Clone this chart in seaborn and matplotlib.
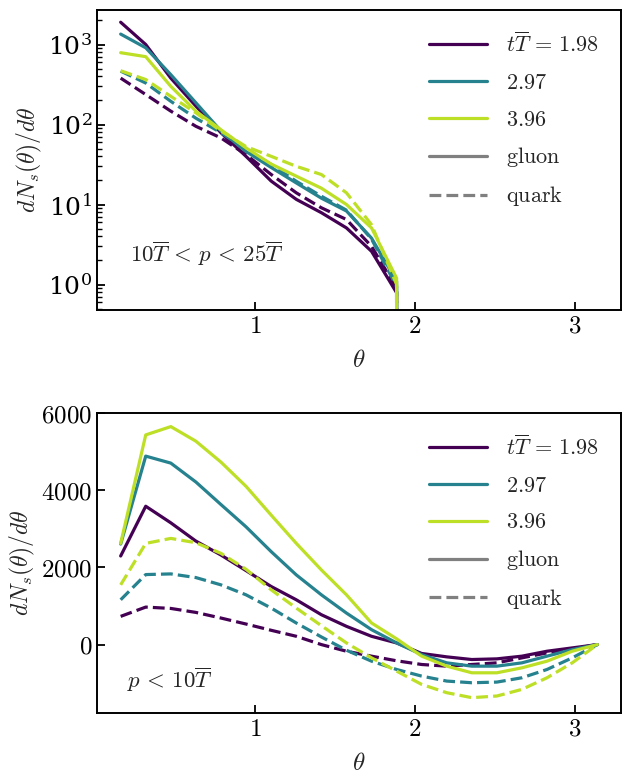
import numpy as np
import pandas as pd
import matplotlib
matplotlib.use('Agg')
import matplotlib.pyplot as plt
from matplotlib.lines import Line2D
from matplotlib.ticker import FuncFormatter
import seaborn as sns

# theta bins (k*pi/20)
theta = [0.157, 0.314, 0.471, 0.628, 0.785, 0.942, 1.100, 1.257, 1.414, 1.571,
         1.728, 1.885, 2.042, 2.199, 2.356, 2.513, 2.670, 2.827, 2.985, 3.142]
times = ['1.98', '2.97', '3.96']

# top panel: 10T < p < 25T (log scale), zero beyond theta ~ 1.9
hi_gluon = {
    '1.98': [1900, 1000, 380, 170, 79, 40, 19.6, 11.6, 7.9, 5.1, 2.6, 0.79, 0],
    '2.97': [1350, 910, 420, 187, 83, 46, 29, 18.6, 12, 8.3, 3.8, 1.1, 0],
    '3.96': [790, 705, 300, 147, 86, 51, 32, 22.6, 16, 10, 5.1, 1.2, 0],
}
hi_quark = {
    '1.98': [380, 237, 147, 95, 68, 42, 23.7, 14, 9.1, 6.5, 3.0, 0.9, 0],
    '2.97': [465, 330, 195, 120, 79, 49, 31.6, 19.5, 12.7, 8.5, 3.7, 0.95, 0],
    '3.96': [470, 365, 225, 140, 83, 53, 40, 30, 23.7, 14, 5.6, 1.0, 0],
}

# bottom panel: p < 10T (linear scale)
lo_gluon = {
    '1.98': [2296, 3586, 3156, 2683, 2322, 1918, 1505, 1161, 774, 473,
             215, 43, -230, -318, -387, -370, -300, -172, -86, 0],
    '2.97': [2606, 4885, 4704, 4214, 3630, 3053, 2408, 1806, 1290, 817,
             387, 43, -260, -473, -559, -559, -473, -300, -129, 0],
    '3.96': [2623, 5435, 5650, 5272, 4730, 4102, 3354, 2623, 1935, 1290,
             560, 150, -300, -559, -731, -731, -602, -430, -172, 0],
}
lo_quark = {
    '1.98': [731, 972, 937, 834, 688, 533, 370, 215, 0, -172,
             -300, -420, -516, -559, -516, -473, -344, -215, -112, 0],
    '2.97': [1161, 1815, 1832, 1737, 1548, 1290, 946, 559, 198, -146,
             -430, -645, -817, -946, -989, -972, -860, -645, -344, 0],
    '3.96': [1548, 2623, 2752, 2640, 2365, 1952, 1419, 946, 490, 43,
             -344, -688, -1032, -1247, -1376, -1333, -1161, -860, -473, 0],
}

colors = dict(zip(times, plt.cm.viridis([0.0, 0.44, 0.9])))

sns.set_style('ticks')
plt.rcParams['font.family'] = ['DejaVu Serif']
plt.rcParams['mathtext.fontset'] = 'cm'
plt.rcParams['axes.linewidth'] = 1.4
plt.rcParams['axes.edgecolor'] = 'black'
plt.rcParams['xtick.color'] = 'black'
plt.rcParams['ytick.color'] = 'black'
plt.rcParams['xtick.direction'] = 'in'
plt.rcParams['ytick.direction'] = 'in'

fig = plt.figure(figsize=(6.25, 7.76), dpi=100)
ax1 = fig.add_axes([0.155, 0.6005, 0.8385, 0.3866])
ax2 = fig.add_axes([0.155, 0.0812, 0.8385, 0.3866])

lw = 2.3
ax1.set_yscale('log')
for t in times:
    n = len(hi_gluon[t])
    sns.lineplot(x=theta[:n], y=hi_gluon[t], ax=ax1, color=colors[t], lw=lw,
                 estimator=None, sort=False)
    sns.lineplot(x=theta[:n], y=hi_quark[t], ax=ax1, color=colors[t], lw=lw,
                 linestyle='--', estimator=None, sort=False)
    sns.lineplot(x=theta, y=lo_gluon[t], ax=ax2, color=colors[t], lw=lw,
                 estimator=None, sort=False)
    sns.lineplot(x=theta, y=lo_quark[t], ax=ax2, color=colors[t], lw=lw,
                 linestyle='--', estimator=None, sort=False)

fs = 18
for ax in (ax1, ax2):
    ax.set_xlim(0.008, 3.29)
    ax.set_xticks([1, 2, 3])
    ax.xaxis.set_major_formatter(FuncFormatter(lambda v, p: r'$%d$' % v))
    ax.set_xlabel(r'$\theta$', fontsize=fs, labelpad=8)
    ax.set_ylabel(r'$dN_s(\theta)/d\theta$', fontsize=17, labelpad=3)
    ax.tick_params(labelsize=fs, width=1.3, length=6)
    ax.tick_params(which='minor', width=1.0, length=3.5)

ax1.set_ylim(0.48, 2700)
ax1.set_yticks([1, 10, 100, 1000])
ax2.set_ylim(-1773, 6003)
ax2.set_yticks([0, 2000, 4000, 6000])
ax2.yaxis.set_major_formatter(FuncFormatter(lambda v, p: r'$%d$' % v))

ax1.text(0.063, 0.16, r'$10\overline{T}\,<\,p\,<\,25\overline{T}$',
         transform=ax1.transAxes, fontsize=16.5)
ax2.text(0.057, 0.083, r'$p\,<\,10\overline{T}$', transform=ax2.transAxes,
         fontsize=16.5)

handles = [Line2D([], [], color=colors[t], lw=lw) for t in times]
handles += [Line2D([], [], color='gray', lw=lw),
            Line2D([], [], color='gray', lw=lw, linestyle='--')]
labels = [r'$t\overline{T}\,=\,1.98$', r'$2.97$', r'$3.96$',
          r'$\mathrm{gluon}$', r'$\mathrm{quark}$']
for ax in (ax1, ax2):
    ax.legend(handles, labels, loc='upper right', frameon=False, fontsize=16,
              handlelength=2.6, handletextpad=0.85, labelspacing=0.67,
              borderaxespad=0.6)

fig.savefig('out.png', dpi=100)
